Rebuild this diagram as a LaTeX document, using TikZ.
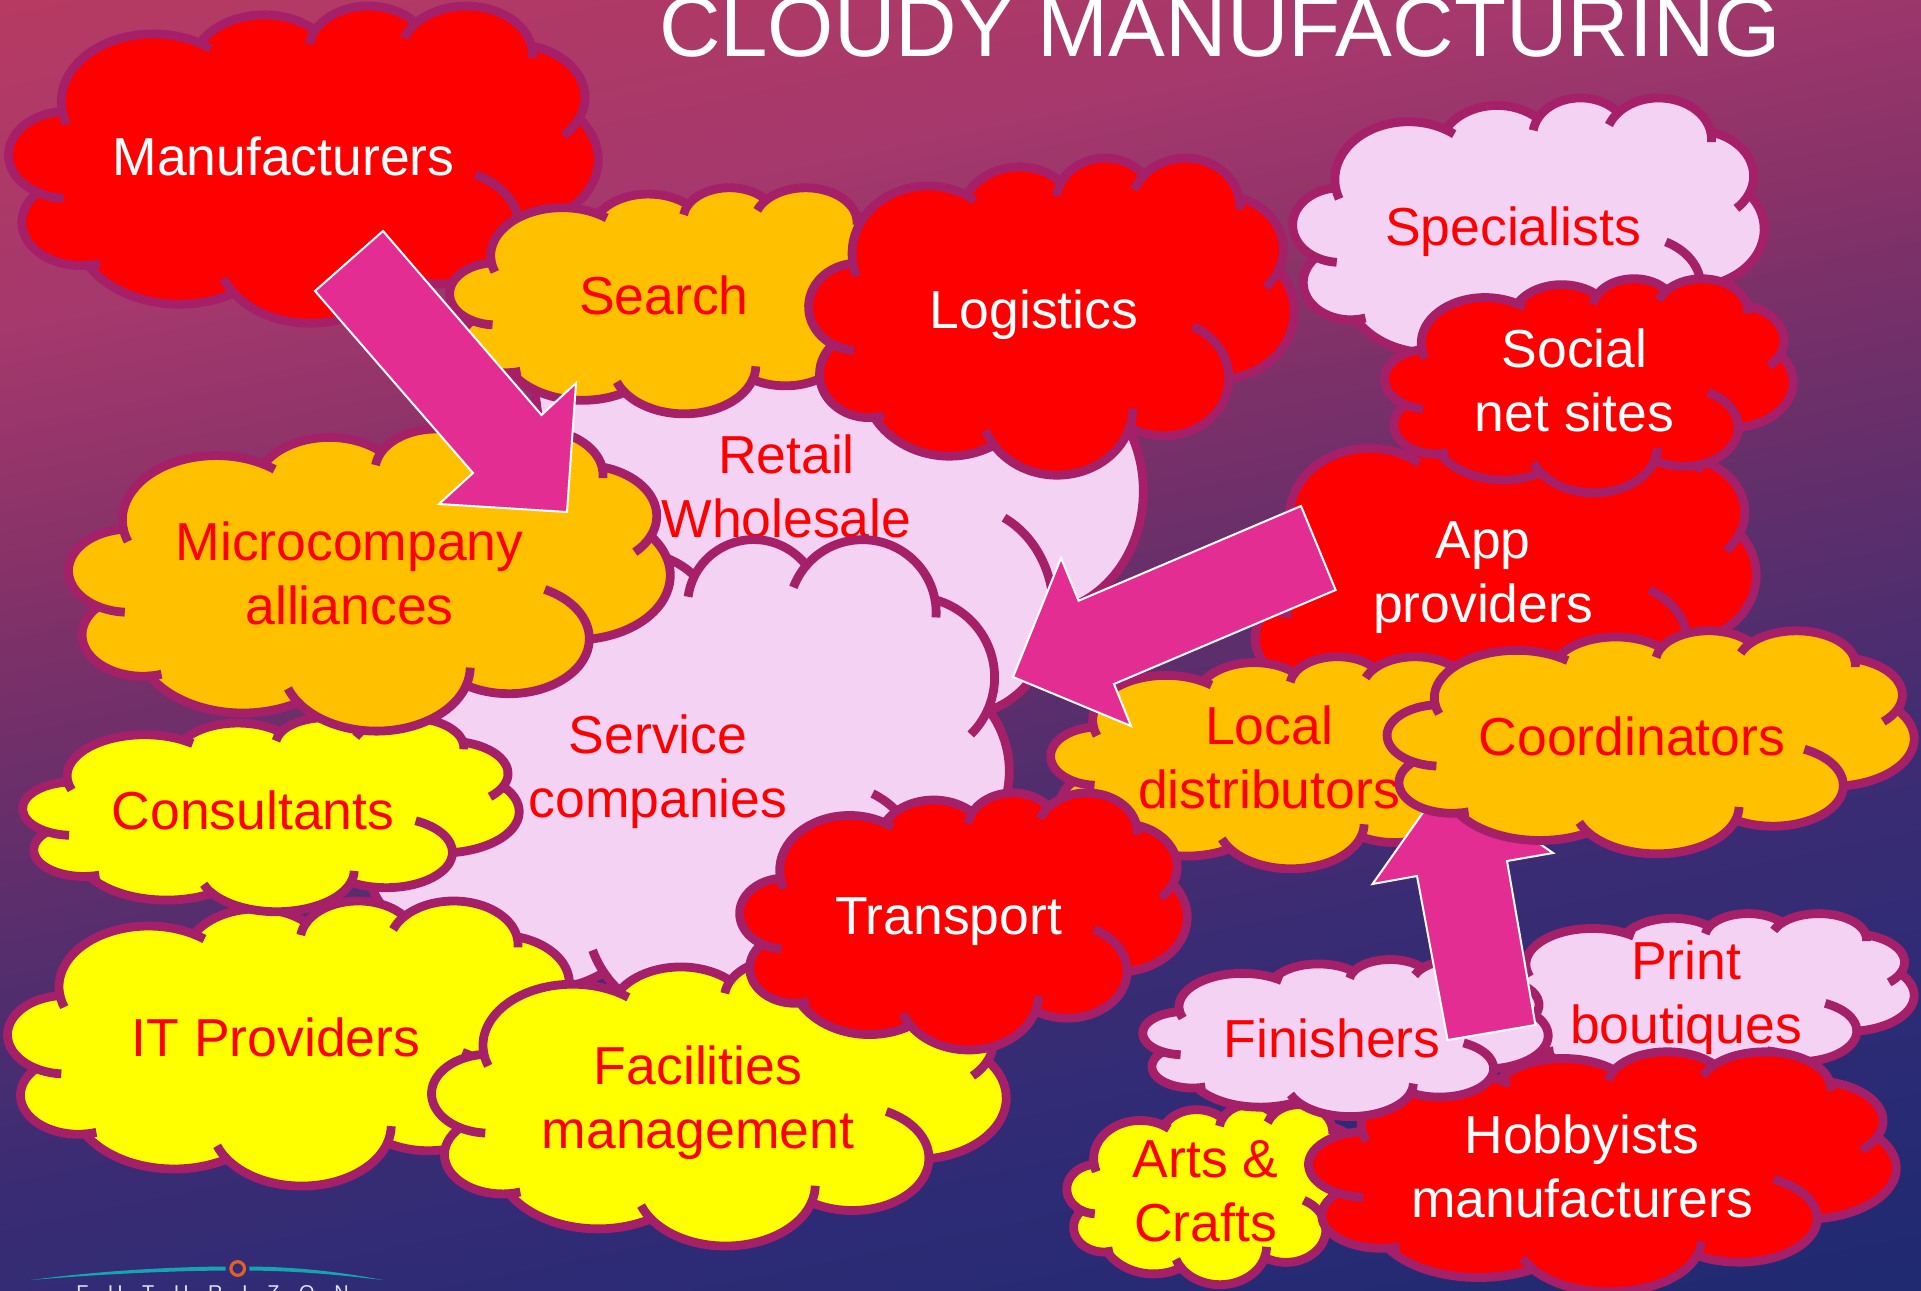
\documentclass[tikz,border=0pt]{standalone}
\usepackage{fontspec}
\setmainfont{Liberation Sans}
\newfontfamily\logofont[LetterSpace=98]{Liberation Sans}
\definecolor{cloudcol}{HTML}{A61F69}
\definecolor{cred}{HTML}{FF0000}
\definecolor{corange}{HTML}{FFC000}
\definecolor{cyellow}{HTML}{FFFF00}
\definecolor{clilac}{HTML}{F4D2F3}
\definecolor{arrowcol}{HTML}{E32D92}
\definecolor{tealcol}{HTML}{14A5AE}
\definecolor{ringcol}{HTML}{E0602A}
\definecolor{bgA}{HTML}{1F2A70}
\definecolor{bgB}{HTML}{2D2B75}
\definecolor{bgC}{HTML}{3A2C74}
\definecolor{bgD}{HTML}{5A2E6C}
\definecolor{bgE}{HTML}{7C3068}
\definecolor{bgF}{HTML}{A5386C}
\definecolor{bgG}{HTML}{B63A62}
\pgfdeclareverticalshading{bgshade}{100bp}{%
color(0bp)=(bgA);color(20.4bp)=(bgA);color(30.3bp)=(bgB);color(37.9bp)=(bgC);%
color(47.3bp)=(bgD);color(56.8bp)=(bgE);color(68.2bp)=(bgF);color(79.6bp)=(bgG);color(100bp)=(bgG)}
\newcommand\defarc[5]{%
  \pgfmathsetmacro\tmpA{atan2(#2*sin(#4),#3*cos(#4))}%
  \pgfmathsetmacro\tmpB{atan2(#2*sin(#4+#5),#3*cos(#4+#5))}%
  \pgfmathsetmacro\tmpD{mod(\tmpB-\tmpA+720,360)}%
  \expandafter\xdef\csname lobe#1\endcsname{arc[start angle=\tmpA, delta angle=\tmpD, x radius=#2cm, y radius=#3cm]}%
  \expandafter\xdef\csname ts#1\endcsname{\tmpA}%
  \expandafter\xdef\csname te#1\endcsname{\tmpB}%
}
\defarc{A}{6.753}{9.19}{-190.487}{123.780}
\defarc{B}{5.333}{7.267}{-144.102}{89.945}
\defarc{C}{4.365}{5.945}{-145.808}{99.723}
\defarc{D}{4.857}{6.595}{-130.986}{117.242}
\defarc{E}{5.333}{7.273}{-78.709}{109.027}
\defarc{F}{6.775}{9.22}{-46.267}{130.269}
\defarc{G}{5.785}{7.867}{0.625}{114.033}
\defarc{H}{6.752}{9.215}{22.452}{115.173}
\defarc{I}{7.72}{10.543}{66.243}{75.711}
\defarc{J}{4.36}{5.918}{-274.942}{146.736}
\defarc{K}{4.345}{5.945}{-246.829}{152.519}
\def\cloudoutline{(3.9,14.37) coordinate (c0)
  \lobeA coordinate (c1) \lobeB coordinate (c2) \lobeC coordinate (c3)
  \lobeD coordinate (c4) \lobeE coordinate (c5) \lobeF coordinate (c6)
  \lobeG coordinate (c7) \lobeH coordinate (c8) \lobeI coordinate (c9)
  \lobeJ coordinate (c10) \lobeK}
\def\cloudticks{
  (c0) arc[start angle=\tsA, delta angle=-12, x radius=6.753cm, y radius=9.19cm]
  (c1) arc[start angle=\teA, delta angle=8, x radius=6.753cm, y radius=9.19cm]
  (c2) arc[start angle=\tsC, delta angle=-19, x radius=4.365cm, y radius=5.945cm]
  (c3) arc[start angle=\tsD, delta angle=-20, x radius=4.857cm, y radius=6.595cm]
  (c4) arc[start angle=\teD, delta angle=14, x radius=4.857cm, y radius=6.595cm]
  (c5) arc[start angle=\teE, delta angle=22, x radius=5.333cm, y radius=7.273cm]
  (c6) arc[start angle=\tsG, delta angle=-64, x radius=5.785cm, y radius=7.867cm]
  (c7) arc[start angle=\tsH, delta angle=-16, x radius=6.752cm, y radius=9.215cm]
  (c8) arc[start angle=\teH, delta angle=14, x radius=6.752cm, y radius=9.215cm]
  (c9) arc[start angle=\tsJ, delta angle=-11.4, x radius=4.36cm, y radius=5.918cm]
  (c10) arc[start angle=\tsK, delta angle=-26.4, x radius=4.345cm, y radius=5.945cm]}
% left, right, top, bottom (pixels), fill
\newcommand\cloudbox[5]{%
  \pgfmathsetmacro\sx{(#2-#1)/2458.3}%
  \pgfmathsetmacro\sy{(#4-#3)/2458.3}%
  \begin{scope}[shift={(#1,#3)},x=1cm,y=1cm,xscale=\sx,yscale=-\sy]
    \path[cloudline,fill=#5,line join=round] \cloudoutline -- cycle;
    \path[cloudline] \cloudticks;
  \end{scope}}
\tikzset{
  cloudline/.style={draw=cloudcol,line width=4.4pt,line cap=butt},
  lblred/.style={inner sep=0pt,align=center,text=cred,yshift=-.2pt,font=\fontsize{26.75}{32}\selectfont},
  lblwhite/.style={lblred,text=white},
  blockarrow/.style={fill=arrowcol,draw=white,line width=1pt,line join=miter}
}
\begin{document}
\begin{tikzpicture}[x=.5pt,y=-.5pt]
\useasboundingbox (0,0) rectangle (1921,1290);
\clip (0,0) rectangle (1921,1290);
\shade[shading=bgshade,shading angle=11.8] (0,0) rectangle (1921,1290);
% logo
\fill[tealcol] (31,1280) .. controls (90,1272) and (160,1267) .. (225.7,1266.5) -- (225.7,1270.5) .. controls (160,1271) and (90,1275) .. (31,1280) -- cycle;
\fill[tealcol] (383,1280) .. controls (340,1275) and (300,1271) .. (249.3,1270.5) -- (249.3,1266.5) .. controls (300,1267) and (340,1272) .. (383,1280) -- cycle;
\draw[ringcol,line width=1.6pt] (237.7,1268.5) circle[radius=6.8];
\node[anchor=base west,inner sep=0pt,text=white!88!blue,font=\logofont\fontsize{10}{12}\selectfont] (logo) at (76,1299) {FUTURIZON};
% title
\node[anchor=base,inner sep=0pt,text=white,font=\fontsize{42.6}{50}\selectfont] (title) at (1220,56) {CLOUDY MANUFACTURING};
% clouds in stacking order
\cloudbox{9}{598}{5}{322}{cred}
\node[lblwhite] (manu) at (283.5,162) {\strut Manufacturers};
\cloudbox{476}{1143}{213}{783}{clilac}
\node[lblred] (retail) at (786.5,492) {\strut Retail\\\strut Wholesale};
\cloudbox{450}{908}{187}{413}{corange}
\node[lblred] (search) at (664,301) {\strut Search};
\cloudbox{809}{1294}{157}{474}{cred}
\node[lblwhite] (logistics) at (1034,315) {\strut Logistics};
\cloudbox{354}{1009}{538}{1016}{clilac}
\node[lblred] (service) at (658,772) {\strut Service\\\strut companies};
\cloudbox{1293}{1764}{97}{368}{clilac}
\node[lblred] (specialists) at (1513,232) {\strut Specialists};
\cloudbox{1244}{1756}{419}{739}{cred}
\node[lblwhite] (app) at (1483,577) {\strut App\\\strut providers};
\cloudbox{1385}{1793}{278}{492}{cred}
\node[lblwhite] (social) at (1574.5,386) {\strut Social\\\strut net sites};
\cloudbox{8}{582}{900}{1185}{cyellow}
\node[lblred] (it) at (276,1043) {\strut IT Providers};
\cloudbox{23}{519}{717}{911}{cyellow}
\node[lblred] (consultants) at (253,816) {\strut Consultants};
\cloudbox{69}{670}{428}{730}{corange}
\node[lblred] (micro) at (349.5,579) {\strut Microcompany\\\strut alliances};
\cloudbox{432}{1006}{958}{1245}{cyellow}
\node[lblred] (facilities) at (698,1103) {\strut Facilities\\\strut management};
\cloudbox{1051}{1520}{656}{868}{corange}
\node[lblred] (local) at (1269,763) {\strut Local\\\strut distributors};
\cloudbox{740}{1187}{792}{1049}{cred}
\node[lblwhite] (transport) at (948.5,921) {\strut Transport};
\cloudbox{1488}{1914}{913}{1082}{clilac}
\node[lblred] (print) at (1686,998) {\strut Print\\\strut boutiques};
\cloudbox{1067}{1366}{1104}{1284}{cyellow}
\node[lblred] (arts) at (1205.6,1196) {\strut Arts \&\\\strut Crafts};
\cloudbox{1309}{1896}{1051}{1291}{cred}
\node[lblwhite] (hobby) at (1582,1172) {\strut Hobbyists\\\strut manufacturers};
\cloudbox{1143}{1548}{959}{1116}{clilac}
\node[lblred] (finishers) at (1332,1044) {\strut Finishers};
% arrow under Coordinators
\path[blockarrow] (1535.4,1025) -- (1447.6,1040) -- (1417,876) -- (1372.5,884) -- (1446.6,779) -- (1553,853) -- (1507,861) -- cycle;
\cloudbox{1387.5}{1914}{630}{853}{corange}
\node[lblred] (coord) at (1632,742) {\strut Coordinators};
% arrows on top
\path[blockarrow] (383,231) -- (541.5,415) -- (576,383) -- (567,512) -- (439,504) -- (473,473) -- (315,291) -- cycle;
\path[blockarrow] (1301,506) -- (1078.6,600.7) -- (1061,558) -- (1013,677) -- (1131,726) -- (1114,684) -- (1335.6,590) -- cycle;
\end{tikzpicture}
\end{document}
